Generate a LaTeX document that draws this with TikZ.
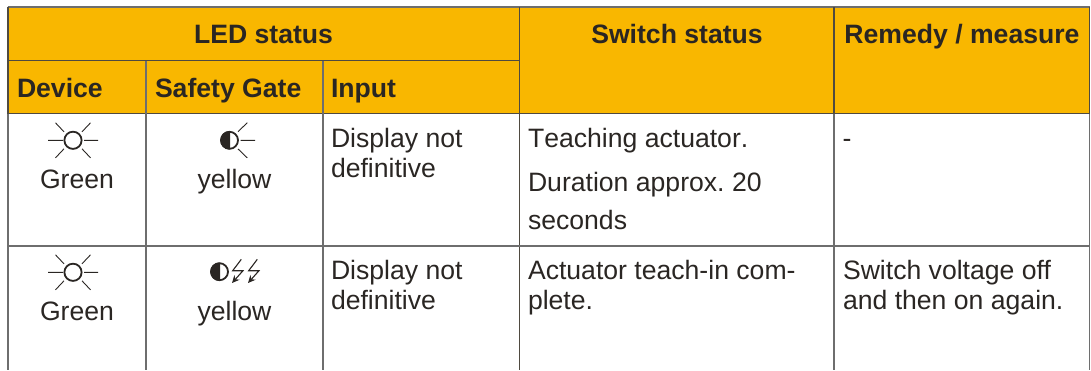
\documentclass[tikz,border=0pt]{standalone}
\usepackage{fontspec}
\setmainfont{Liberation Sans}
\usetikzlibrary{arrows.meta}
\definecolor{hdr}{HTML}{F9B700}
\definecolor{ink}{HTML}{2A2623}
\definecolor{rule}{HTML}{6E6E6E}
\definecolor{hrule}{HTML}{4F4A40}
\tikzset{
  x=1pt,y=-1pt,
  txt/.style={anchor=base west,inner sep=0pt,outer sep=0pt,text=ink,font=\frenchspacing\fontsize{26.6}{30}\selectfont},
  ctr/.style={txt,anchor=base},
  btxt/.style={txt,font=\fontsize{26.6}{30}\selectfont\bfseries},
  bctr/.style={btxt,anchor=base},
  grid/.style={draw=rule,line width=1.5pt},
  hgrid/.style={draw=hrule,line width=1.5pt},
  ray/.style={draw=ink,line width=0.9pt},
  ledring/.style={draw=ink,line width=1.8pt},
  bolt/.style={draw=ink,line width=1.1pt,-{Stealth[length=7.5pt,width=7pt]}},
  pics/sun/.style={code={
    \draw[ledring] (0,0) circle (8.6);
    \draw[ray] (-25,0) -- (-10,0) (11,0) -- (25,0)
      (-17.5,-17.5) -- (-9,-8.5) (17.5,-17.5) -- (9,-8.5)
      (-17.5,17.5) -- (-9,8.5) (17.5,17.5) -- (9,8.5);
  }},
  pics/halfled/.style={code={
    \begin{scope}
      \clip (-10,-10) rectangle (0.5,10);
      \fill[ink] (0,0) circle (9.2);
    \end{scope}
    \draw[ledring] (0,0) circle (8.5);
  }}
}
\begin{document}
\begin{tikzpicture}
\useasboundingbox (0,0) rectangle (1091,370);
% header fill
\fill[hdr] (8,7) rectangle (1089,113.5);
% body rules
\draw[grid] (8,113.5) -- (8,370) (146,113.5) -- (146,370) (323,113.5) -- (323,370)
  (834,113.5) -- (834,370) (1089.5,113.5) -- (1089.5,370);
\draw[hgrid,line width=1.2pt] (519.5,113.5) -- (519.5,370);
\draw[grid,line width=2pt] (8,245.8) -- (1090,245.8);
% header rules
\draw[grid] (7.5,7) -- (1090,7);
\draw[hgrid] (8,60.5) -- (519,60.5);
\draw[hgrid] (7.5,113.5) -- (1090,113.5);
\draw[hgrid] (8,7) -- (8,113.5) (519.5,7) -- (519.5,113.5) (834,7) -- (834,113.5) (1089.5,7) -- (1089.5,113.5);
\draw[grid] (146,60.5) -- (146,113.5) (323,60.5) -- (323,113.5);
% header text
\node[bctr] (led) at (263.5,43) {LED status};
\node[bctr] (sw) at (677,43) {Switch status};
\node[bctr] (rem) at (962,43) {Remedy / measure};
\node[btxt] (dev) at (17,97) {Device};
\node[btxt] (gate) at (155,97) {Safety Gate};
\node[btxt] (inp) at (331,97) {Input};
% row 1
\pic at (73,140.3) {sun};
\node[ctr] (g1) at (77,188.5) {Green};
\pic at (229.5,140.3) {halfled};
\draw[ray] (240.7,140.3) -- (255,140.3) (238,131.7) -- (247.3,122.7) (238,148.9) -- (247.3,157.9);
\node[ctr] (y1) at (234.5,188.5) {yellow};
\node[txt] (d1a) at (331,147.3) {Display not};
\node[txt] (d1b) at (331,177) {definitive};
\node[txt] (t1) at (528,147.3) {\addfontfeature{Kerning=Off}Teaching actuator.};
\node[txt] (t2) at (528,191.7) {Duration approx. 20};
\node[txt] (t3) at (528,229) {seconds};
\node[txt] (dash) at (842.5,147.3) {-};
% row 2
\pic at (73,272.3) {sun};
\node[ctr] (g2) at (77,320.5) {Green};
\pic at (219.5,271.7) {halfled};
\draw[bolt] (241.3,259.3) -- (232.7,270.7) -- (243,270.7) -- (232,283);
\draw[bolt] (257.3,259.3) -- (248.7,270.7) -- (259,270.7) -- (248,283);
\node[ctr] (y2) at (234.5,320.5) {yellow};
\node[txt] (d2a) at (331,279) {Display not};
\node[txt] (d2b) at (331,309) {definitive};
\node[txt] (a1) at (528,279) {Actuator teach-in com-};
\node[txt] (a2) at (528,309) {plete.};
\node[txt] (r1) at (843,279) {Switch voltage off};
\node[txt] (r2) at (843,309) {and then on again.};
\end{tikzpicture}
\end{document}
